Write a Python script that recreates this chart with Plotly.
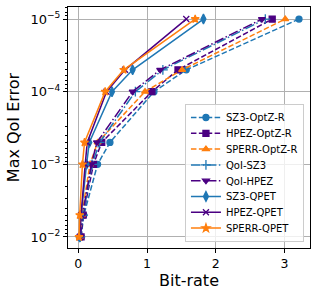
import plotly.graph_objects as go

qoi_error = [1e-2, 5e-3, 1e-3, 5e-4, 1e-4, 5e-5, 1e-5]

sz3_optz_r = [0.04, 0.08, 0.28, 0.46, 1.10, 1.57, 3.21]
hpez_optz_r = [0.04, 0.07, 0.22, 0.34, 1.07, 1.45, 2.82]
sperr_optz_r = [0.02, 0.05, 0.17, 0.28, 0.97, 1.51, 3.01]
qoi_sz3 = [0.03, 0.07, 0.20, 0.31, 0.83, 1.23, 2.72]
qoi_hpez = [0.03, 0.06, 0.19, 0.27, 0.79, 1.19, 2.67]
sz3_qpet = [0.02, 0.04, 0.12, 0.16, 0.49, 0.79, 1.82]
hpez_qpet = [0.02, 0.04, 0.10, 0.13, 0.41, 0.68, 1.57]
sperr_qpet = [0.01, 0.02, 0.06, 0.09, 0.39, 0.66, 1.70]

BLUE = "#1f77b4"
PURPLE = "#4b0082"
ORANGE = "#ff7f0e"

DASH = "5.5px,2.4px"
DASHDOT = "9.6px,2.4px,1.5px,2.4px"

series = [
    ("SZ3-OptZ-R", sz3_optz_r, BLUE, DASH, "circle", 6),
    ("HPEZ-OptZ-R", hpez_optz_r, PURPLE, DASH, "square", 6),
    ("SPERR-OptZ-R", sperr_optz_r, ORANGE, DASH, "triangle-up", 6),
    ("QoI-SZ3", qoi_sz3, BLUE, DASHDOT, "cross-thin", 7),
    ("QoI-HPEZ", qoi_hpez, PURPLE, DASHDOT, "triangle-down", 6),
    ("SZ3-QPET", sz3_qpet, BLUE, "solid", "diamond-tall", 7),
    ("HPEZ-QPET", hpez_qpet, PURPLE, "solid", "x-thin", 6),
    ("SPERR-QPET", sperr_qpet, ORANGE, "solid", "star", 6),
]

fig = go.Figure()
for name, xs, color, dash, symbol, size in series:
    fig.add_trace(go.Scatter(
        x=xs, y=qoi_error, name=name, mode="lines+markers",
        line=dict(color=color, width=1.5, dash=dash),
        marker=dict(symbol=symbol, size=size, color=color,
                    line=dict(color=color, width=1.3)),
    ))

fig.update_layout(
    width=318, height=297,
    margin=dict(l=68, r=8, t=7, b=49),
    paper_bgcolor="white", plot_bgcolor="white",
    font=dict(family="DejaVu Sans", color="black", size=12),
    hovermode=False,
    showlegend=True,
    legend=dict(
        x=0.975, y=0.025, xanchor="right", yanchor="bottom",
        bgcolor="rgba(255,255,255,0.8)", bordercolor="#cccccc", borderwidth=1,
        font=dict(size=10), tracegroupgap=0, itemwidth=30,
    ),
)

fig.update_xaxes(
    range=[-0.15, 3.37], tickvals=[0, 1, 2, 3],
    showgrid=True, gridcolor="#b0b0b0", gridwidth=1,
    showline=True, linecolor="black", linewidth=1, mirror=True,
    ticks="outside", ticklen=4, tickcolor="black",
    zeroline=False, automargin=False,
    title=dict(text="Bit-rate", font=dict(size=16), standoff=4),
    tickfont=dict(size=12.5),
)

fig.update_yaxes(
    type="log", range=[-1.848, -5.166],
    tickvals=[1e-2, 1e-3, 1e-4, 1e-5],
    ticktext=["10<sup>−2</sup>", "10<sup>−3</sup>", "10<sup>−4</sup>", "10<sup>−5</sup>"],
    showgrid=True, gridcolor="#b0b0b0", gridwidth=1,
    showline=True, linecolor="black", linewidth=1, mirror=True,
    ticks="outside", ticklen=4, tickcolor="black",
    minor=dict(ticks="outside", ticklen=2, tickcolor="black", dtick="D1", showgrid=False),
    zeroline=False, automargin=False,
    title=dict(text="Max QoI Error", font=dict(size=16), standoff=6),
    tickfont=dict(size=13),
)

post = """
document.documentElement.style.margin = '0';
document.documentElement.style.padding = '0';
document.documentElement.style.overflow = 'hidden';
document.body.style.margin = '0';
document.body.style.padding = '0';
document.body.style.overflow = 'hidden';
var gd = document.getElementById('{plot_id}');
var leg = gd.querySelector('g.legend');
function pos(el) {
  var m = /translate\\(\\s*([-\\d.e]+)[\\s,]+([-\\d.e]+)\\s*\\)/.exec(el.getAttribute('transform') || '');
  return m ? [parseFloat(m[1]), parseFloat(m[2])] : [0, 0];
}
if (leg) {
  var items = leg.querySelectorAll('g.traces');
  var step = 15.8;
  if (items.length > 1) {
    var p0 = pos(items[0]), p1 = pos(items[1]);
    var old = p1[1] - p0[1];
    var shrink = (old - step) * items.length;
    items.forEach(function (g, i) {
      var p = pos(g);
      g.setAttribute('transform', 'translate(' + p[0] + ',' + (p0[1] - (old - step) / 2 + i * step) + ')');
    });
    var bg = leg.querySelector('rect.bg');
    if (bg) { bg.setAttribute('height', parseFloat(bg.getAttribute('height')) - shrink); }
    var lp = pos(leg);
    leg.setAttribute('transform', 'translate(' + lp[0] + ',' + (lp[1] + shrink) + ')');
  }
}
"""

fig.write_html("out.html", post_script=post, config={"displayModeBar": False, "staticPlot": False})
